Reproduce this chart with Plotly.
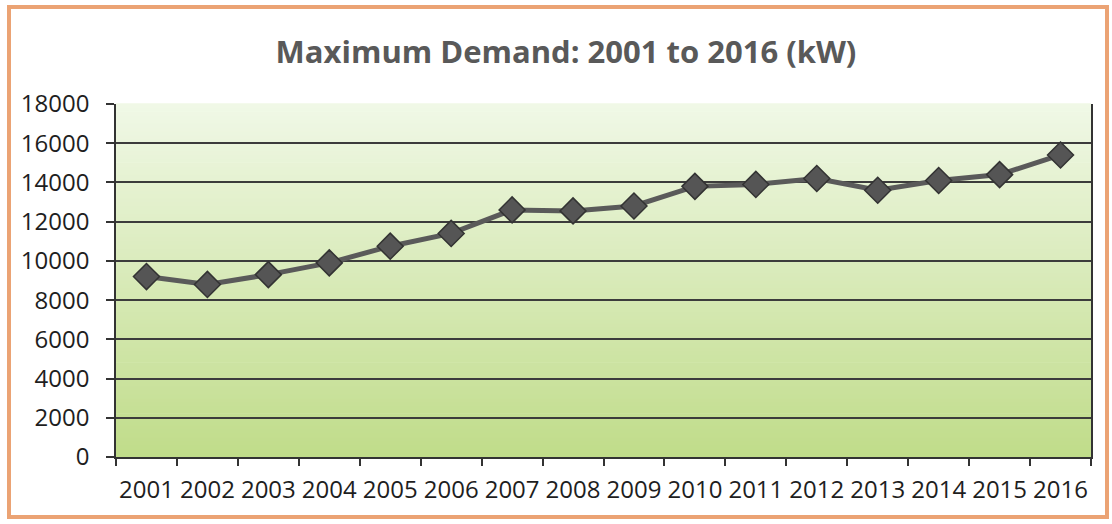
import plotly.graph_objects as go

# Yearly maximum demand (kW)
years = ["2001", "2002", "2003", "2004", "2005", "2006", "2007", "2008",
         "2009", "2010", "2011", "2012", "2013", "2014", "2015", "2016"]
max_demand_kw = [9200, 8800, 9300, 9900, 10750, 11400, 12600, 12550,
                 12800, 13800, 13900, 14200, 13600, 14100, 14400, 15400]
y_ticks = [0, 2000, 4000, 6000, 8000, 10000, 12000, 14000, 16000, 18000]

W, H = 1112, 524
ML, MR, MT, MB = 116, 21, 104, 67
plot_w = W - ML - MR
plot_h = H - MT - MB

fig = go.Figure()

fig.add_trace(go.Scatter(
    x=years, y=max_demand_kw, mode="lines+markers",
    line=dict(color="#5a5a5a", width=5),
    marker=dict(symbol="diamond", size=20, color="#555555",
                line=dict(color="#333333", width=1.5)),
    showlegend=False, hoverinfo="x+y",
))

# Vertical green gradient behind the plot area, built from thin bands
top_rgb = (240, 248, 230)
bot_rgb = (192, 220, 138)
n_bands = 90
shapes = []
for i in range(n_bands):
    t = i / (n_bands - 1)
    r = round(bot_rgb[0] + (top_rgb[0] - bot_rgb[0]) * t)
    g = round(bot_rgb[1] + (top_rgb[1] - bot_rgb[1]) * t)
    b = round(bot_rgb[2] + (top_rgb[2] - bot_rgb[2]) * t)
    shapes.append(dict(
        type="rect", xref="x domain", yref="y domain",
        x0=0, x1=1, y0=i / n_bands, y1=(i + 1) / n_bands + 0.002,
        fillcolor=f"rgb({r},{g},{b})", line=dict(width=0), layer="below",
    ))

# Orange frame around the whole chart
def px_to_paper_x(px):
    return (px - ML) / plot_w

def px_to_paper_y(py):
    return (H - MB - py) / plot_h

shapes.append(dict(
    type="rect", xref="paper", yref="paper",
    x0=px_to_paper_x(9), x1=px_to_paper_x(1107),
    y0=px_to_paper_y(517), y1=px_to_paper_y(7),
    line=dict(color="#eba374", width=4), fillcolor="rgba(0,0,0,0)",
    layer="above",
))

fig.update_layout(
    width=W, height=H,
    margin=dict(l=ML, r=MR, t=MT, b=MB, autoexpand=False),
    paper_bgcolor="white",
    plot_bgcolor="rgba(0,0,0,0)",
    shapes=shapes,
    title=dict(
        text="<b>Maximum Demand: 2001 to 2016 (kW)</b>",
        x=566 / W, xanchor="center", xref="container",
        y=1 - 52 / H, yanchor="middle", yref="container",
        font=dict(family="Open Sans", size=31, color="#595959"),
    ),
    font=dict(family="Open Sans", size=24, color="#1e1e1e"),
)

fig.update_xaxes(
    type="category", range=[-0.5, len(years) - 0.5], autorange=False,
    tickson="boundaries", tickangle=0, automargin=False,
    ticks="outside", ticklen=7, tickwidth=1.5, tickcolor="#333333",
    showline=True, linecolor="#333333", linewidth=1.5,
    showgrid=False, ticklabelstandoff=10,
    tickfont=dict(family="Open Sans", size=24, color="#1e1e1e"),
)
fig.update_yaxes(
    range=[0, 18000], autorange=False, automargin=False,
    tickvals=y_ticks, ticktext=[str(v) for v in y_ticks],
    ticks="outside", ticklen=8, tickwidth=1.5, tickcolor="#333333",
    showline=True, linecolor="#333333", linewidth=1.5, mirror=True,
    showgrid=True, gridcolor="#3c3c3c", gridwidth=1.5,
    zeroline=False, ticklabelstandoff=12,
    tickfont=dict(family="Open Sans", size=24, color="#1e1e1e"),
)

fig.write_html("out.html")
